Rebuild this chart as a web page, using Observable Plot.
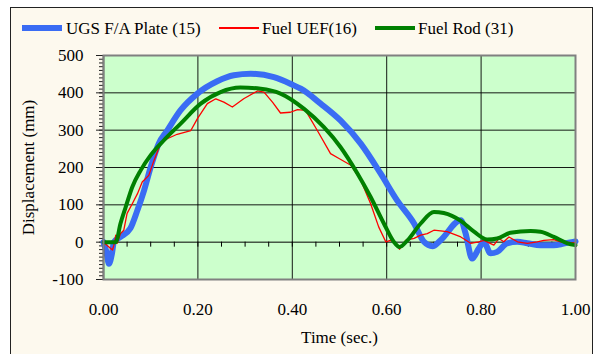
<!DOCTYPE html>
<html><head><meta charset="utf-8">
<script src="https://cdn.jsdelivr.net/npm/d3@7"></script>
<script src="https://cdn.jsdelivr.net/npm/@observablehq/plot@0.6"></script>
<style>
body{margin:0;background:#fff;}
#wrap{position:relative;width:602px;height:354px;overflow:hidden;font-family:"Liberation Serif",Tinos,"Times New Roman",Times,"DejaVu Serif",serif;}
#border{position:absolute;left:10px;top:7px;width:583px;height:360px;border:1.5px solid #222;background:#fdf9ee;box-sizing:border-box;}
#chart{position:absolute;left:0;top:0;}
.legtxt{position:absolute;top:19px;font-size:17px;line-height:20px;white-space:nowrap;color:#000;font-family:"Liberation Serif",Tinos,"Times New Roman",Times,"DejaVu Serif",serif;}
.sw{position:absolute;}
#chart svg, #chart svg text{font-family:"Liberation Serif",Tinos,"Times New Roman",Times,"DejaVu Serif",serif !important;}
</style></head>
<body>
<div id="wrap"><div id="border"></div><div id="chart"></div></div>
<script>
// ---- data ----
const seriesNames = ["UGS F/A Plate (15)", "Fuel UEF(16)", "Fuel Rod (31)"];
const plateT = [0,0.006,0.0115,0.018,0.022,0.036,0.057,0.072,0.086,0.1,0.117,0.135,0.163,0.199,0.241,0.276,0.312,0.361,0.403,0.418,0.46,0.502,0.545,0.587,0.622,0.658,0.679,0.697,0.714,0.757,0.767,0.781,0.795,0.806,0.82,0.834,0.855,0.877,0.898,0.926,0.954,0.975,1.0];
const plateV = [0,-25,-58,-30,0,14,37,86,139,201,264,299,353,398,431,447,451,442,420,411,371,326,264,184,112,50,1,-11,5,59,24,-44,-17,1,-30,-26,-3,1,-3,-8,-8,-4,2];
const uefT = [0,0.011,0.019,0.022,0.026,0.029,0.036,0.043,0.05,0.061,0.072,0.082,0.096,0.107,0.121,0.135,0.156,0.185,0.199,0.22,0.238,0.255,0.273,0.297,0.326,0.34,0.358,0.375,0.396,0.411,0.428,0.453,0.481,0.499,0.524,0.545,0.566,0.583,0.598,0.608,0.619,0.627,0.64,0.658,0.672,0.686,0.7,0.728,0.757,0.778,0.795,0.806,0.827,0.838,0.848,0.859,0.877,0.898,0.919,0.933,0.954,0.968,1.0];
const uefV = [0,-12,-21,-8,19,-3,23,32,77,103,130,161,179,219,264,277,289,299,331,371,384,375,362,384,405,402,375,346,348,355,353,299,237,224,206,166,103,41,1,5,-3,-19,5,10,19,23,32,28,14,-3,1,5,-8,10,1,14,1,-3,1,5,7,1,-2];
const rodT = [0,0.026,0.036,0.047,0.061,0.079,0.1,0.128,0.163,0.206,0.248,0.29,0.333,0.375,0.425,0.467,0.502,0.538,0.566,0.594,0.615,0.627,0.644,0.672,0.7,0.721,0.757,0.785,0.813,0.834,0.862,0.905,0.926,0.954,0.983,1.0];
const rodV = [0,0,50,94,148,193,233,273,317,371,402,414,411,398,357,308,255,184,121,50,1,-13,5,50,81,78,57,28,7,10,25,30,28,14,-3,-8];
const xTicks = [0,0.2,0.4,0.6,0.8,1.0];
const xMinor = d3.range(1,20).map(i=>i*0.05);
const yTicks = [-100,0,100,200,300,400,500];
const yMinor = d3.range(-100,501,10);
const xGrid = [0.2,0.4,0.6,0.8];
const yGrid = [100,200,300,400];
const xTitle = "Time (sec.)";
const yTitle = "Displacement (mm)";

const colors = ["#3a6cf4","#ff0000","#008000"];
const widths = [6,1.3,4];
const serif = '"Liberation Serif",Tinos,"Times New Roman",Times,"DejaVu Serif",serif';

const toRows = (T,V)=>T.map((t,i)=>({t, v:V[i]}));
const plate = toRows(plateT, plateV), uef = toRows(uefT, uefV), rod = toRows(rodT, rodV);

const chart = Plot.plot({
  width: 602, height: 354,
  marginLeft: 103, marginRight: 27, marginTop: 55, marginBottom: 75,
  x: {domain: [0,1]},
  y: {domain: [-100,500]},
  style: {fontFamily: serif, fontSize: "17px", background: "transparent", color: "#000"},
  marks: [
    Plot.frame({fill: "#ccffcc"}),
    Plot.gridX(xGrid, {stroke: "#000", strokeOpacity: 0.9, strokeWidth: 1}),
    Plot.gridY(yGrid, {stroke: "#000", strokeOpacity: 0.9, strokeWidth: 1}),
    Plot.ruleY([0], {stroke: "#000", strokeWidth: 1}),
    Plot.ruleX(xMinor, {x: d=>d, y1: 0, y2: 0, insetTop: 5, stroke: "#000"}),
    Plot.axisY({ticks: yMinor, tickSize: 4, tickFormat: () => "", label: null, stroke: "#222"}),
    Plot.axisY({ticks: yTicks, tickSize: 7, tickPadding: 13, tickFormat: d => String(d), label: null, stroke: "#222", fontFamily: serif}),
    Plot.axisX({ticks: xTicks, tickSize: 0, tickPadding: 23, tickFormat: d => d.toFixed(2), label: null, fontFamily: serif}),
    Plot.line(plate, {x: "t", y: "v", stroke: colors[0], strokeWidth: widths[0], curve: "monotone-x"}),
    Plot.line(uef, {x: "t", y: "v", stroke: colors[1], strokeWidth: widths[1], curve: "linear"}),
    Plot.line(rod, {x: "t", y: "v", stroke: colors[2], strokeWidth: widths[2], curve: "monotone-x"}),
    Plot.ruleX([0], {stroke: "#333", strokeWidth: 1.5}),
    Plot.frame({stroke: "#808080", strokeWidth: 2}),
    Plot.text([xTitle], {frameAnchor: "bottom", dy: 58, lineAnchor: "middle", textAnchor: "middle", fontSize: 17, fontFamily: serif}),
    Plot.text([yTitle], {frameAnchor: "left", dx: -75, rotate: -90, lineAnchor: "middle", textAnchor: "middle", fontSize: 17, fontFamily: serif})
  ]
});
document.getElementById("chart").appendChild(chart);

// legend
const wrap = document.getElementById("wrap");
const swLeft = [22, 219, 375], txtLeft = [66, 262, 418];
seriesNames.forEach((name, i) => {
  const sw = document.createElement("div");
  sw.className = "sw";
  sw.style.left = swLeft[i] + "px";
  sw.style.width = "40px";
  sw.style.height = widths[i] + "px";
  sw.style.top = (28 - widths[i]/2) + "px";
  sw.style.background = colors[i];
  wrap.appendChild(sw);
  const tx = document.createElement("div");
  tx.className = "legtxt";
  tx.style.left = txtLeft[i] + "px";
  tx.textContent = name;
  wrap.appendChild(tx);
});
</script>
</body></html>
